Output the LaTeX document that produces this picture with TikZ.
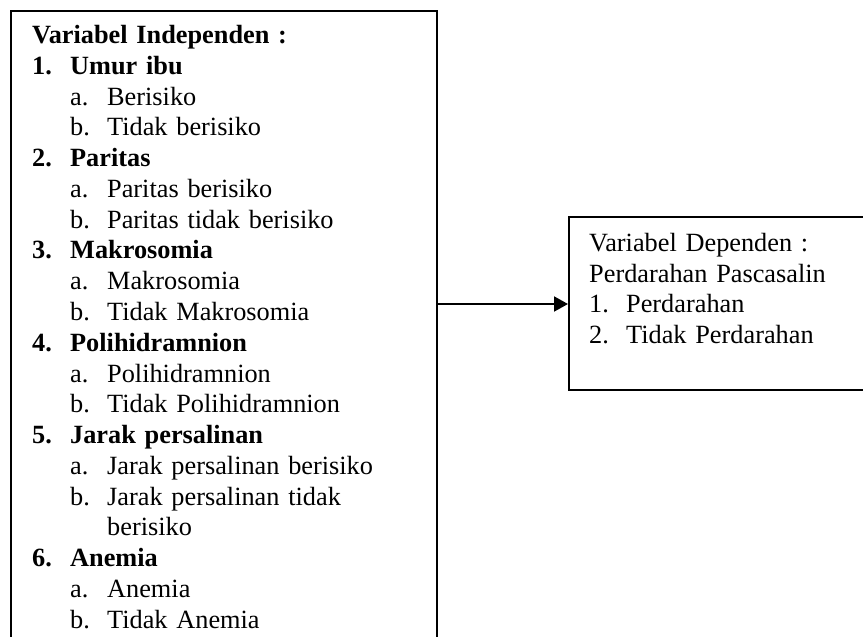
\documentclass[tikz,border=0pt]{standalone}
\usepackage{fontspec}
\setmainfont{Liberation Serif}
\usetikzlibrary{arrows.meta}
\tikzset{
  boxstyle/.style={draw, line width=2pt, rectangle, inner sep=0pt, anchor=north west},
  txtstyle/.style={inner sep=0pt, anchor=north west, align=left, text width=#1},
  arr/.style={line width=2pt, -{Triangle[length=14pt,width=15pt]}}
}
\newcommand{\numA}[1]{\makebox[38pt][l]{#1}}
\newcommand{\subA}[1]{\hspace*{38pt}\makebox[37pt][l]{#1}}
\begin{document}
\begin{tikzpicture}[x=1pt,y=-1pt]
\useasboundingbox (0,0) rectangle (863,637);
\clip (0,0) rectangle (863,637);
\node[boxstyle, minimum width=426pt, minimum height=700pt] (L) at (10,10) {};
\node[boxstyle, minimum width=340pt, minimum height=173pt] (R) at (568,216) {};
\node[txtstyle=400pt, font=\fontsize{26.3}{30.77}\selectfont] (Ltxt) at (32,21.8) {%
\strut\textbf{Variabel Independen :}\\
\textbf{\numA{1.}Umur ibu}\\
\subA{a.}Berisiko\\
\subA{b.}Tidak berisiko\\
\textbf{\numA{2.}Paritas}\\
\subA{a.}Paritas berisiko\\
\subA{b.}Paritas tidak berisiko\\
\textbf{\numA{3.}Makrosomia}\\
\subA{a.}Makrosomia\\
\subA{b.}Tidak Makrosomia\\
\textbf{\numA{4.}Polihidramnion}\\
\subA{a.}Polihidramnion\\
\subA{b.}Tidak Polihidramnion\\
\textbf{\numA{5.}Jarak persalinan}\\
\subA{a.}Jarak persalinan berisiko\\
\subA{b.}Jarak persalinan tidak\\
\hspace*{75pt}berisiko\\
\textbf{\numA{6.}Anemia}\\
\subA{a.}Anemia\\
\subA{b.}Tidak Anemia};
\node[txtstyle=270pt, font=\fontsize{26.3}{30.45}\selectfont] (Rtxt) at (589,230.4) {%
\strut Variabel Dependen :\\
Perdarahan Pascasalin\\
\makebox[37pt][l]{1.}Perdarahan\\
\makebox[37pt][l]{2.}Tidak Perdarahan};
\draw[arr] (L.east |- 0,304) -- (R.west |- 0,304);
\end{tikzpicture}
\end{document}
